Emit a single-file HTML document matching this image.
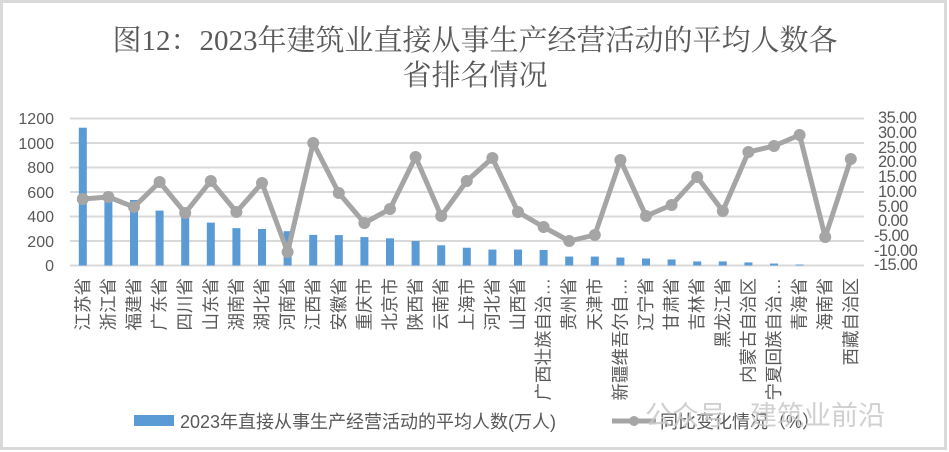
<!DOCTYPE html>
<html><head><meta charset="utf-8"><style>
html,body{margin:0;padding:0;background:#fff;}
svg{display:block;}
text{font-family:"Liberation Sans","Noto Sans CJK SC",sans-serif;fill:#595959;}
</style></head><body>
<svg width="949" height="452" viewBox="0 0 949 452" xmlns="http://www.w3.org/2000/svg">
<rect x="1.5" y="1.5" width="944" height="447" fill="#fff" stroke="#d9d9d9" stroke-width="3"/>
<g font-size="29" text-anchor="middle">
<text x="475" y="50" style="font-family:'Liberation Serif','Noto Serif CJK SC',serif">图12：2023年建筑业直接从事生产经营活动的平均人数各</text>
<text x="475" y="85" style="font-family:'Liberation Serif','Noto Serif CJK SC',serif">省排名情况</text>
</g>
<g stroke="#d9d9d9" stroke-width="2">
<line x1="70" x2="864" y1="118.5" y2="118.5"/><line x1="70" x2="864" y1="143" y2="143"/>
<line x1="70" x2="864" y1="167.5" y2="167.5"/><line x1="70" x2="864" y1="192" y2="192"/>
<line x1="70" x2="864" y1="216.5" y2="216.5"/><line x1="70" x2="864" y1="241" y2="241"/>
<line x1="70" x2="864" y1="265.5" y2="265.5"/>
</g>
<g font-size="16" text-anchor="end">
<text x="54" y="124">1200</text><text x="54" y="149">1000</text><text x="54" y="173">800</text>
<text x="54" y="198">600</text><text x="54" y="222">400</text><text x="54" y="247">200</text><text x="54" y="271">0</text>
</g>
<g font-size="16.5" letter-spacing="-0.6">
<text x="878" y="123">35.00</text><text x="878" y="138">30.00</text><text x="878" y="153">25.00</text>
<text x="878" y="167">20.00</text><text x="878" y="182">15.00</text><text x="878" y="197">10.00</text>
<text x="878" y="212">5.00</text><text x="878" y="226">0.00</text><text x="874" y="241">-5.00</text>
<text x="874" y="256">-10.00</text><text x="874" y="270">-15.00</text>
</g>
<g id="bars" fill="#5b9bd5"></g>
<g id="line"></g>
<g id="labels" font-size="17.5"></g>
<rect x="134" y="415" width="40" height="11" fill="#5b9bd5"/>
<text x="180" y="428" font-size="18">2023年直接从事生产经营活动的平均人数(万人)</text>
<line x1="612" y1="421" x2="656" y2="421" stroke="#a5a5a5" stroke-width="5"/>
<circle cx="634" cy="421" r="5" fill="#a5a5a5"/>
<text x="660" y="428" font-size="18">同比变化情况（%）</text>
<text x="645" y="425" font-size="27" style="fill:#c8c8c8;opacity:0.85">公众号 · 建筑业前沿</text>
<script>
var names=["江苏省","浙江省","福建省","广东省","四川省","山东省","湖南省","湖北省","河南省","江西省","安徽省","重庆市","北京市","陕西省","云南省","上海市","河北省","山西省","广西壮族自治…","贵州省","天津市","新疆维吾尔自…","辽宁省","甘肃省","吉林省","黑龙江省","内蒙古自治区","宁夏回族自治…","青海省","海南省","西藏自治区"];
var vals=[1125,600,535,448,415,350,305,298,280,250,248,232,222,200,165,145,130,130,127,73,73,65,57,49,33,33,25,16,8,0,0];
var ly=[199,197,207,182,213,181,212,183,252,143,193,223,209,157,216,181,158,212,227,241,235,160,216,205,177,211,152,146,135,237,159];
var ns="http://www.w3.org/2000/svg",b=document.getElementById("bars"),l=document.getElementById("line"),lb=document.getElementById("labels");
var pts=[];
for(var i=0;i<31;i++){var cx=82.8+i*25.6;
 if(vals[i]>0){var h=vals[i]*24.5/200;var r=document.createElementNS(ns,"rect");r.setAttribute("x",cx-4);r.setAttribute("y",265.5-h);r.setAttribute("width",8);r.setAttribute("height",h);b.appendChild(r);}
 pts.push(cx+","+ly[i]);
 var t=document.createElementNS(ns,"text");t.setAttribute("transform","translate("+(cx+6)+",278) rotate(-90)");t.setAttribute("text-anchor","end");t.textContent=names[i];lb.appendChild(t);}
var p=document.createElementNS(ns,"polyline");p.setAttribute("points",pts.join(" "));p.setAttribute("fill","none");p.setAttribute("stroke","#a5a5a5");p.setAttribute("stroke-width","5");p.setAttribute("stroke-linejoin","round");l.appendChild(p);
for(var i=0;i<31;i++){var c=document.createElementNS(ns,"circle");c.setAttribute("cx",82.8+i*25.6);c.setAttribute("cy",ly[i]);c.setAttribute("r",6);c.setAttribute("fill","#a5a5a5");l.appendChild(c);}
</script>
</svg>
</body></html>
